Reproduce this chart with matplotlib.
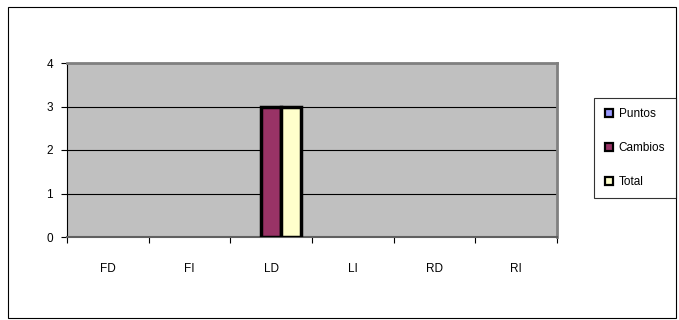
import matplotlib.pyplot as plt
from matplotlib.lines import Line2D
from matplotlib.patches import Rectangle
import numpy as np

plt.rcParams['font.family'] = ['Liberation Sans', 'DejaVu Sans']

# Datos
categorias = ['FD', 'FI', 'LD', 'LI', 'RD', 'RI']
puntos = [0, 0, 0, 0, 0, 0]
cambios = [0, 0, 3, 0, 0, 0]
total = [0, 0, 3, 0, 0, 0]

series = ['Puntos', 'Cambios', 'Total']
colores = ['#9999FF', '#993366', '#FFFFCC']

fig = plt.figure(figsize=(6.79, 3.2), dpi=100)
ax = fig.add_axes([67 / 679, 1 - 237 / 320, 490 / 679, 174 / 320])
ax.set_facecolor('#C0C0C0')

x = np.arange(len(categorias))
ancho = 0.245
for i, (vals, col) in enumerate(zip([puntos, cambios, total], colores)):
    v = np.array(vals)
    m = v > 0
    ax.bar(x[m] + (i - 1) * ancho, v[m], width=ancho, color=col,
           edgecolor='black', linewidth=2.5, zorder=3)

ax.set_xlim(-0.5, len(categorias) - 0.5)
ax.set_ylim(0, 4)
ax.set_yticks([0, 1, 2, 3, 4])
ax.yaxis.grid(True, color='black', linewidth=0.8)
ax.set_axisbelow(True)

ax.set_xticks(x)
ax.set_xticklabels(categorias)
ax.set_xticks(np.arange(-0.5, len(categorias)), minor=True)
ax.tick_params(axis='x', which='major', length=0, pad=19, labelsize=8.5)
ax.tick_params(axis='x', which='minor', length=4, width=0.8, direction='out')
ax.tick_params(axis='y', length=4, width=0.8, labelsize=8.5, pad=6)

ax.spines['left'].set_color('black')
ax.spines['bottom'].set_color('#606060')
ax.spines['bottom'].set_linewidth(1.5)
ax.spines['top'].set_color('#808080')
ax.spines['top'].set_linewidth(2)
ax.spines['right'].set_color('#808080')
ax.spines['right'].set_linewidth(2)

handles = [Line2D([], [], linestyle='none', marker='s', markersize=6,
                  markerfacecolor=c, markeredgecolor='black', markeredgewidth=1.6)
           for c in colores]
leg = fig.legend(handles, series, loc='center',
                 bbox_to_anchor=(635 / 679, 1 - 148 / 320),
                 fontsize=8.5, frameon=True, fancybox=False,
                 labelspacing=1.85, handlelength=0.8, handletextpad=0.4,
                 borderpad=0.9, borderaxespad=0)
leg.get_frame().set_edgecolor('black')
leg.get_frame().set_linewidth(0.8)

fig.patches.append(Rectangle((8 / 679, 1 - 318 / 320), 668 / 679, 311 / 320,
                             transform=fig.transFigure, fill=False,
                             edgecolor='black', linewidth=0.8))

fig.savefig('out.png', dpi=100)
